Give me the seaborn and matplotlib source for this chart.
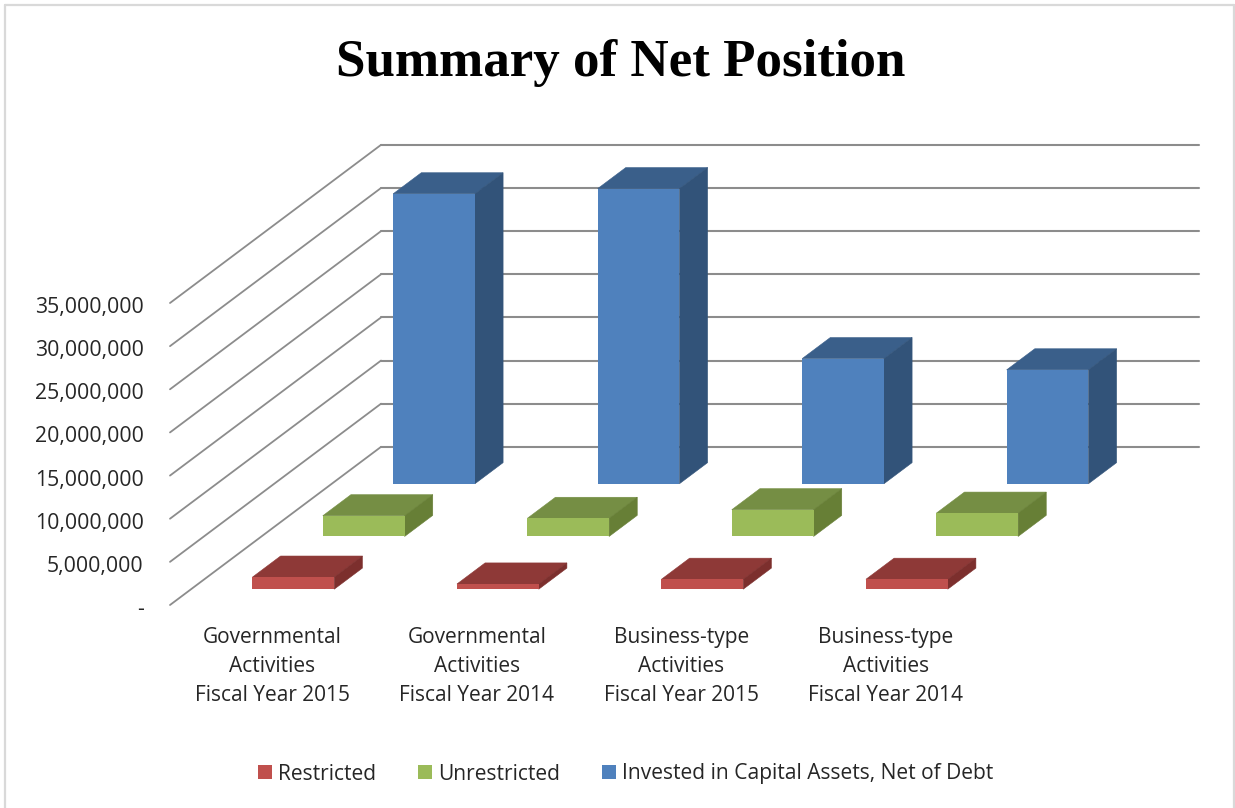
import matplotlib
matplotlib.use("Agg")
import matplotlib.pyplot as plt
import seaborn as sns
from matplotlib.lines import Line2D
from matplotlib.patches import Patch, Polygon
from matplotlib.ticker import FuncFormatter
from matplotlib.transforms import Affine2D

categories = [
    "Governmental\nActivities\nFiscal Year 2015",
    "Governmental\nActivities\nFiscal Year 2014",
    "Business-type\nActivities\nFiscal Year 2015",
    "Business-type\nActivities\nFiscal Year 2014",
]
restricted = [1400000, 600000, 1150000, 1150000]
unrestricted = [2400000, 2100000, 3100000, 2700000]
invested = [33600000, 34200000, 14500000, 13200000]
series_names = ["Restricted", "Unrestricted", "Invested in Capital Assets, Net of Debt"]
y_ticks = [0, 5000000, 10000000, 15000000, 20000000, 25000000, 30000000, 35000000]

W, H = 1235, 808

# depth of the floor, in data units (categories, dollars)
DEPTH_X = 1.032
DEPTH_Y = 18330000
N_ROWS = 3
BAR_DEPTH = 0.4 / N_ROWS

sns.set_theme(style="white")
plt.rcParams["font.family"] = ["Open Sans", "DejaVu Sans"]

fig = plt.figure(figsize=(W / 100, H / 100), dpi=100)
ax = fig.add_axes([170 / W, 1 - 605 / H, 818 / W, 302 / H])


def draw_row(values, row, front, top, side):
    shift_by = (row + 0.3) / N_ROWS
    shift = Affine2D().translate(shift_by * DEPTH_X, shift_by * DEPTH_Y) + ax.transData
    n_before = len(ax.patches)
    sns.barplot(x=categories, y=values, color=front, saturation=1, width=0.4, ax=ax,
                transform=shift, clip_on=False, linewidth=0, zorder=3 + 3 * (N_ROWS - row))
    dx = BAR_DEPTH * DEPTH_X
    dy = BAR_DEPTH * DEPTH_Y
    for bar in list(ax.patches[n_before:]):
        x0 = bar.get_x()
        x1 = x0 + bar.get_width()
        h = bar.get_height()
        z = bar.get_zorder()
        ax.add_patch(Polygon([(x0, h), (x1, h), (x1 + dx, h + dy), (x0 + dx, h + dy)],
                             facecolor=top, edgecolor=top, lw=0.4, transform=shift,
                             clip_on=False, zorder=z - 1))
        ax.add_patch(Polygon([(x1, 0), (x1 + dx, dy), (x1 + dx, h + dy), (x1, h)],
                             facecolor=side, edgecolor=side, lw=0.4, transform=shift,
                             clip_on=False, zorder=z - 1))


draw_row(invested, 2, "#4F81BD", "#3A5F8A", "#325379")
draw_row(unrestricted, 1, "#9BBB59", "#758E44", "#677F36")
draw_row(restricted, 0, "#C0504D", "#8E3937", "#7C2F2D")

ax.set_xlim(-0.5, 3.5)
ax.set_ylim(0, 35000000)

# walls
for v in y_ticks:
    ax.plot([-0.5, -0.5 + DEPTH_X], [v, v + DEPTH_Y], color="#8C8C8C", lw=1.3, clip_on=False, zorder=1)
    ax.plot([-0.5 + DEPTH_X, 3.5 + DEPTH_X], [v + DEPTH_Y, v + DEPTH_Y], color="#8C8C8C", lw=1.5,
            clip_on=False, zorder=1)

sns.despine(ax=ax, left=True, bottom=True)
ax.set_yticks(y_ticks)
ax.yaxis.set_major_formatter(FuncFormatter(lambda v, _: "-" if v == 0 else f"{int(v):,}"))
ax.tick_params(axis="y", length=0, pad=19, labelsize=15.3, labelcolor="#262626")
ax.tick_params(axis="x", length=0, pad=16, labelsize=15, labelcolor="#262626")
for lab in ax.get_xticklabels():
    lab.set_linespacing(1.5)
# nudge the value labels down a little
for lab in ax.get_yticklabels():
    lab.set_transform(lab.get_transform() + Affine2D().translate(0, -2))
ax.grid(False)
ax.patch.set_alpha(0)

fig.text(620.5 / W, 1 - 63 / H, "Summary of Net Position", family="Liberation Serif", weight="bold",
         fontsize=38.2, color="black", ha="center", va="center")

handles = [Patch(facecolor=c, edgecolor="none") for c in ["#C0504D", "#9BBB59", "#4F81BD"]]
fig.legend(handles, series_names, ncol=3, frameon=False, fontsize=15.1, labelcolor="#262626",
           loc="center", bbox_to_anchor=(625.5 / W, 1 - 774 / H),
           handlelength=0.66, handleheight=0.66, handletextpad=0.3, columnspacing=2.0)

# outer chart frame, cropped at the bottom
for xs, ys in [((5, 5), (5, 808)), ((5, 1234), (5, 5)), ((1234, 1234), (5, 808))]:
    fig.add_artist(Line2D([x / W for x in xs], [1 - y / H for y in ys], color="#D9D9D9", lw=1.6))

fig.savefig("out.png", dpi=100)
